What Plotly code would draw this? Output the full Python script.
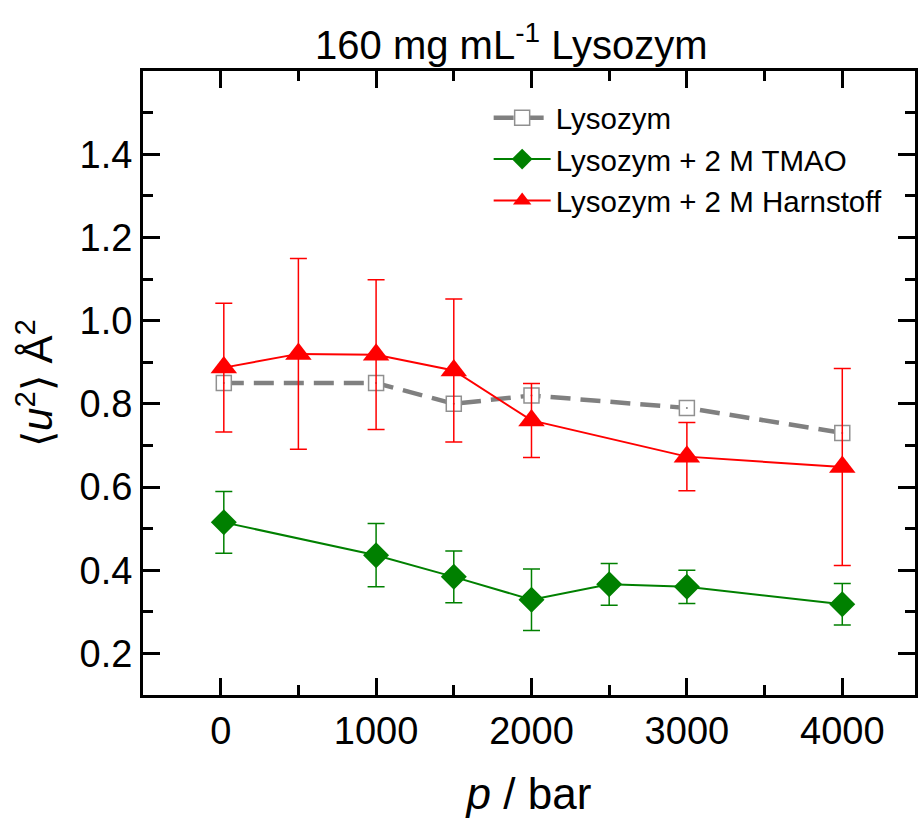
import plotly.graph_objects as go

# ---- data ----
p_lys = [20, 1000, 1500, 2000, 3000, 4000]
u_lys = [0.85, 0.85, 0.80, 0.82, 0.79, 0.73]

p_tmao = [20, 1000, 1500, 2000, 2500, 3000, 4000]
u_tmao = [0.515, 0.436, 0.384, 0.329, 0.366, 0.36, 0.318]
e_tmao = [0.074, 0.076, 0.062, 0.074, 0.05, 0.04, 0.05]

p_urea = [20, 500, 1000, 1500, 2000, 3000, 4000]
u_urea = [0.887, 0.92, 0.918, 0.88, 0.76, 0.673, 0.648]
e_urea = [0.155, 0.229, 0.18, 0.172, 0.089, 0.082, 0.237]

x_ticks = [0, 1000, 2000, 3000, 4000]
y_ticks = [0.2, 0.4, 0.6, 0.8, 1.0, 1.2, 1.4]

names = ["Lysozym", "Lysozym + 2 M TMAO", "Lysozym + 2 M Harnstoff"]
FONT = "Liberation Sans, Arial, sans-serif"

fig = go.Figure()

fig.add_trace(go.Scatter(
    x=p_lys, y=u_lys, name=names[0], mode="lines+markers",
    line=dict(color="#808080", width=4.5, dash="20px,10px"),
    marker=dict(symbol="square", size=15, color="white",
                line=dict(color="#909090", width=1.5)),
))
fig.add_trace(go.Scatter(
    x=p_lys, y=u_lys, mode="markers", showlegend=False, hoverinfo="skip",
    marker=dict(symbol="circle", size=2, color="#808080"),
))
fig.add_trace(go.Scatter(
    x=p_tmao, y=u_tmao, name=names[1], mode="lines+markers",
    line=dict(color="#008000", width=2),
    marker=dict(symbol="diamond", size=20, color="#008000"),
    error_y=dict(type="data", array=e_tmao, color="#008000", thickness=1.5, width=8.5),
))
fig.add_trace(go.Scatter(
    x=p_urea, y=u_urea, name=names[2], mode="lines+markers",
    line=dict(color="#ff0000", width=2),
    marker=dict(symbol="triangle-up", size=23, color="#ff0000"),
    error_y=dict(type="data", array=e_urea, color="#ff0000", thickness=1.5, width=8.5),
))

axis_common = dict(
    showline=True, linecolor="black", linewidth=3, mirror="allticks",
    ticks="inside", ticklen=17, tickwidth=3, tickcolor="black",
    showgrid=False, zeroline=False,
    tickfont=dict(family=FONT, size=38, color="black"),
)

fig.update_xaxes(
    range=[-500, 4468], tickvals=x_ticks, ticktext=[str(v) for v in x_ticks],
    minor=dict(ticks="inside", dtick=500, tick0=0, ticklen=10, tickwidth=3, tickcolor="black", showgrid=False),
    title=dict(text="<i>p</i> / bar", font=dict(family=FONT, size=44, color="black"), standoff=28),
    **axis_common,
)
fig.update_yaxes(
    range=[0.1, 1.6], tickvals=y_ticks, ticktext=[f"{v:.1f}" for v in y_ticks],
    minor=dict(ticks="inside", dtick=0.1, tick0=0.1, ticklen=10, tickwidth=3, tickcolor="black", showgrid=False),
    title=dict(text="\u27e8<i>u</i><sup>2</sup>\u27e9 \u00c5<sup>2</sup>",
               font=dict(family=FONT, size=42, color="black"), standoff=14),
    **axis_common,
)

fig.update_layout(
    width=918, height=818,
    margin=dict(l=143, r=0, t=71, b=123),
    paper_bgcolor="white", plot_bgcolor="white",
    title=dict(text="160 mg mL<sup>-1</sup> Lysozym", x=0.557, xanchor="center",
               y=1 - 45 / 818, yref="container", yanchor="middle",
               font=dict(family=FONT, size=40, color="black")),
    legend=dict(x=(490 - 143) / 775, y=1 - (92 - 71) / 624, xanchor="left", yanchor="top",
                bgcolor="rgba(0,0,0,0)", font=dict(family=FONT, size=29.5, color="black"),
                itemwidth=57, tracegroupgap=0),
    showlegend=True,
)

fig.write_html("out.html")
